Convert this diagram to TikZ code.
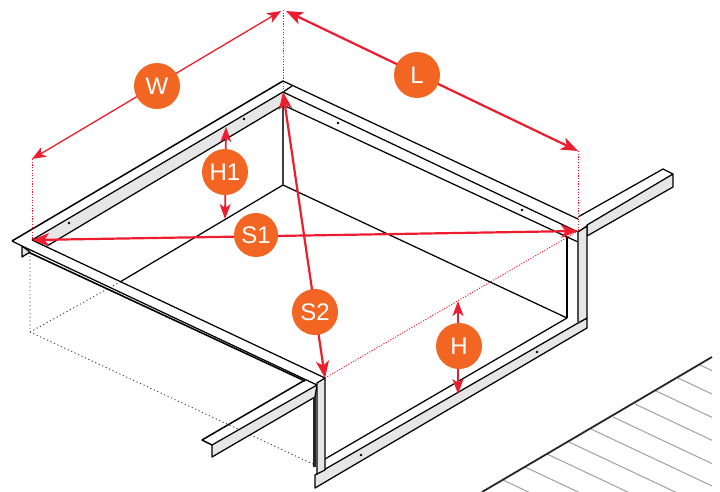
\documentclass[tikz,border=0pt]{standalone}
\usepackage{fontspec}
\setmainfont{Liberation Sans}
\usetikzlibrary{arrows.meta}
\definecolor{redline}{HTML}{ED1C2E}
\definecolor{badge}{HTML}{F26522}
\definecolor{metal}{HTML}{E6E6E6}
\tikzset{
  edge/.style={draw=black,line width=1.25pt,line join=round},
  face/.style={fill=metal,draw=black,line width=1.25pt,line join=round},
  post/.style={draw=black!75,line width=2.4pt},
  hiddenline/.style={draw=black!75,line width=0.9pt,dash pattern=on 1.2pt off 2.6pt},
  guide/.style={draw=redline,line width=0.9pt,dash pattern=on 1.2pt off 1.5pt},
  dim/.style={draw=redline,line width=2.2pt,{Stealth[length=17pt,width=13pt,inset=4.5pt]}-{Stealth[length=17pt,width=13pt,inset=4.5pt]}},
  dimthin/.style={draw=redline,line width=1.3pt,{Stealth[length=14pt,width=11pt,inset=4pt]}-{Stealth[length=14pt,width=11pt,inset=4pt]}},
  badgenode/.style={circle,fill=badge,text=white,inner sep=0pt,minimum size=46pt,font=\fontsize{24}{24}\selectfont},
  bolt/.style={fill=black,circle,inner sep=0pt,minimum size=2.8pt},
  plank/.style={draw=black!35,line width=1.1pt}
}
\begin{document}
\begin{tikzpicture}[x=1pt,y=-1pt]
\useasboundingbox (0,0) rectangle (720,492);
% deck
\begin{scope}
\clip (470,340) rectangle (712,492);
\foreach \px/\py in {503/480,525/467,547/454,569/442,591/429,613/417,635/404,656/391,678/378,700/365}
  \draw[plank] (\px,\py) -- ++(240,113);
\end{scope}
\draw[draw=black!85,line width=1.8pt] (482,492) -- (712,357);
% hidden lines
\draw[hiddenline] (30,252) -- (30,332) -- (315,465);
\draw[hiddenline] (30,332) -- (120,282);
% floor
\draw[edge] (120,282) -- (283,185) -- (567,318);
\draw[post] (283,105) -- (283,185);
% left rail
\fill[metal] (32,240) -- (283,92) -- (283,105) -- (47,246) -- cycle;
\draw[edge,line width=1.5pt] (12,241) -- (283,81);
\draw[edge] (32,240) -- (283,92) -- (292,86);
\draw[edge] (47,246) -- (283,105);
% back rail
\draw[edge] (283,81) -- (578,219);
\draw[edge] (283,92) -- (578,232);
\draw[edge] (283,105) -- (578,242);
% front rail
\draw[edge] (12,241) -- (22,246) -- (317,385);
\draw[edge] (32,240) -- (325,378);
\draw[edge,line width=1.6pt] (28,252) -- (305,381);
\path[face] (22,246) -- (22,257) -- (30,252) -- cycle;
% front beam
\path[face] (317,385) -- (212,445) -- (212,457) -- (315,397) -- cycle;
\draw[edge,line width=1.5pt] (305,380) -- (202,440) -- (212,445);
% right beam
\path[face] (587,225) -- (673,174) -- (673,187) -- (587,236) -- cycle;
\draw[edge] (578,217) -- (663,169) -- (673,174);
\draw[edge] (578,232) -- (587,226);
% bottom rail
\path[face] (315,475) -- (578,323) -- (587,318) -- (587,328) -- (315,488) -- cycle;
\draw[edge] (325,459) -- (567,318);
% right post
\draw[edge] (567,237) -- (567,318);
\path[face] (578,232) -- (587,226) -- (587,318) -- (578,323) -- cycle;
\draw[draw=black!70,line width=1.5pt] (578,232) -- (578,323);
% front post
\path[face] (317,383) -- (325,378) -- (325,470) -- (317,474) -- cycle;
\fill[black!85] (313,397) rectangle (316,467);
% bolts
\node[bolt] (b1) at (69,223) {};
\node[bolt] (b2) at (244,119) {};
\node[bolt] (b3) at (338,123) {};
\node[bolt] (b4) at (522,210) {};
\node[bolt] (b5) at (361,455) {};
\node[bolt] (b6) at (537,352) {};
% dimension anchors
\coordinate (apex) at (283,10);
\coordinate (backcorner) at (283,92);
\coordinate (wend) at (32,159);
\coordinate (leftcorner) at (32,240);
\coordinate (lend) at (578,151);
\coordinate (rightcorner) at (578,231);
\coordinate (frontcorner) at (325,378);
\coordinate (wtip) at (281,11);
\coordinate (ltip) at (286,11);
\coordinate (h1top) at (226,127);
\coordinate (h1bot) at (225,219);
\coordinate (htop) at (458,301);
\coordinate (hbot) at (458,394);
% guides
\draw[guide] (apex) -- (backcorner);
\draw[guide] (wend) -- (leftcorner);
\draw[guide] (lend) -- (rightcorner);
\draw[guide] (frontcorner) -- (rightcorner);
% dimensions
\draw[dimthin] (wend) -- (wtip);
\draw[dim] (ltip) -- (lend);
\draw[dim] (leftcorner) -- (rightcorner);
\draw[dim] (backcorner) -- (frontcorner);
\draw[dim,line width=1.8pt,{Stealth[length=15pt,width=11pt,inset=4pt]}-{Stealth[length=15pt,width=11pt,inset=4pt]}] (h1top) -- (h1bot);
\draw[dim,line width=1.8pt,{Stealth[length=15pt,width=11pt,inset=4pt]}-{Stealth[length=15pt,width=11pt,inset=4pt]}] (htop) -- (hbot);
% badges
\node[badgenode] (W) at (157,86) {W};
\node[badgenode] (L) at (417,75) {L};
\node[badgenode] (H1) at (225,172) {H1};
\node[badgenode,minimum size=44pt] (S1) at (256,235) {S1};
\node[badgenode] (S2) at (315,312) {S2};
\node[badgenode] (H) at (459,346) {H};
\end{tikzpicture}
\end{document}
